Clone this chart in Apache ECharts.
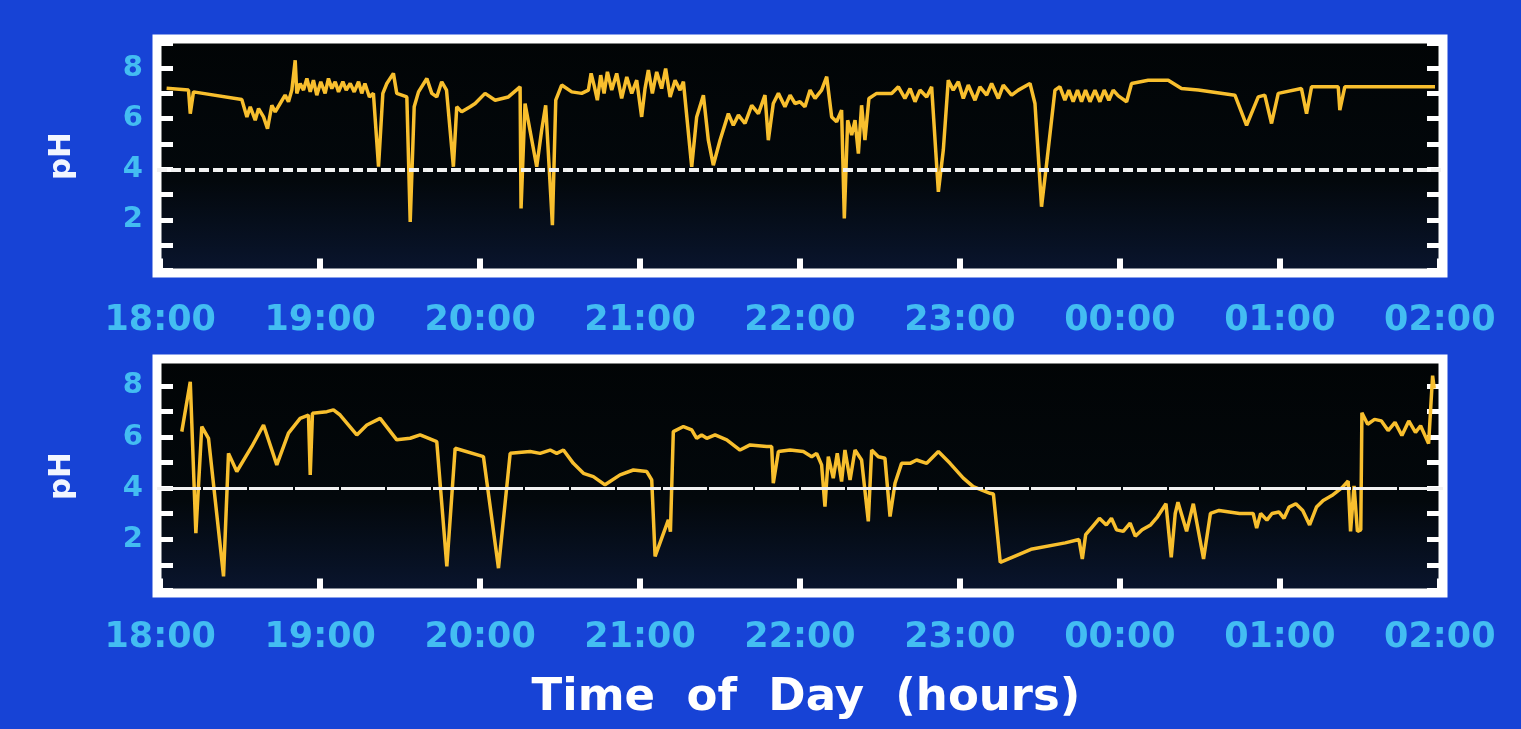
<!DOCTYPE html>
<html>
<head>
<meta charset="utf-8">
<title>pH vs Time of Day</title>
<script src="https://cdn.jsdelivr.net/npm/echarts@6/dist/echarts.min.js"></script>
<style>
  html, body { margin: 0; padding: 0; background: #1743d6; }
  #chart { width: 1521px; height: 729px; }
</style>
</head>
<body>
<div id="chart"></div>
<script>
// hours as decimals: 18 = 18:00 ... 24 = 00:00, 26 = 02:00 next day
const hourValues = [18, 19, 20, 21, 22, 23, 24, 25, 26];
const hourLabels = ['18:00', '19:00', '20:00', '21:00', '22:00', '23:00', '00:00', '01:00', '02:00'];
const yTickValues = [2, 4, 6, 8];
const yTickLabels = ['2', '4', '6', '8'];
const thresholdPH = 4;

// upper trace
const topTimes = [
  18.04, 18.177, 18.188, 18.208, 18.51, 18.542, 18.563, 18.594, 18.615, 18.646,
  18.671, 18.698, 18.719, 18.75, 18.781, 18.802, 18.823, 18.844, 18.854, 18.875,
  18.896, 18.917, 18.938, 18.958, 18.979, 19.004, 19.031, 19.052, 19.073, 19.094,
  19.115, 19.142, 19.163, 19.188, 19.213, 19.24, 19.26, 19.28, 19.308, 19.333,
  19.365, 19.392, 19.417, 19.458, 19.479, 19.542, 19.563, 19.588, 19.615, 19.667,
  19.698, 19.729, 19.76, 19.79, 19.833, 19.854, 19.885, 19.938, 19.969, 20.031,
  20.094, 20.177, 20.25, 20.256, 20.281, 20.354, 20.385, 20.41, 20.452, 20.473,
  20.51, 20.573, 20.635, 20.677, 20.694, 20.715, 20.733, 20.754, 20.775, 20.796,
  20.823, 20.854, 20.885, 20.917, 20.948, 20.979, 21.01, 21.031, 21.052, 21.077,
  21.104, 21.135, 21.16, 21.188, 21.219, 21.25, 21.271, 21.323, 21.354, 21.396,
  21.427, 21.458, 21.5, 21.552, 21.583, 21.615, 21.656, 21.698, 21.74, 21.781,
  21.802, 21.833, 21.865, 21.906, 21.938, 21.969, 22.0, 22.031, 22.063, 22.094,
  22.135, 22.167, 22.198, 22.229, 22.26, 22.277, 22.298, 22.323, 22.344, 22.365,
  22.385, 22.406, 22.431, 22.479, 22.573, 22.615, 22.656, 22.688, 22.719, 22.75,
  22.792, 22.823, 22.865, 22.896, 22.927, 22.958, 22.99, 23.021, 23.052, 23.094,
  23.125, 23.167, 23.198, 23.24, 23.271, 23.323, 23.365, 23.438, 23.469, 23.51,
  23.542, 23.594, 23.625, 23.656, 23.681, 23.708, 23.735, 23.76, 23.785, 23.813,
  23.844, 23.875, 23.902, 23.931, 23.958, 23.99, 24.042, 24.073, 24.177, 24.302,
  24.385, 24.49, 24.719, 24.792, 24.865, 24.906, 24.948, 24.99, 25.135, 25.167,
  25.198, 25.365, 25.375, 25.406, 25.97
];
const topPH = [
  7.2, 7.13, 6.2, 7.06, 6.76, 6.07, 6.47, 5.94, 6.4, 6.07,
  5.6, 6.53, 6.27, 6.6, 6.93, 6.67, 7.13, 8.31, 7.0, 7.39,
  7.13, 7.59, 7.06, 7.52, 6.93, 7.46, 7.0, 7.59, 7.19, 7.46,
  7.06, 7.46, 7.13, 7.39, 7.06, 7.46, 7.0, 7.39, 6.86, 7.0,
  4.1, 7.0, 7.39, 7.79, 7.0, 6.86, 1.92, 6.47, 7.06, 7.59,
  7.0, 6.86, 7.46, 7.13, 4.1, 6.47, 6.27, 6.47, 6.6, 7.0,
  6.73, 6.86, 7.26, 2.45, 6.6, 4.1, 5.55, 6.53, 1.79, 6.73,
  7.33, 7.06, 7.0, 7.13, 7.79, 7.26, 6.73, 7.72, 7.0, 7.85,
  7.13, 7.79, 6.8, 7.65, 7.0, 7.52, 6.07, 7.19, 7.92, 7.0,
  7.85, 7.19, 7.98, 6.86, 7.52, 7.13, 7.46, 4.1, 6.07, 6.93,
  5.15, 4.16, 5.15, 6.2, 5.74, 6.14, 5.81, 6.53, 6.2, 6.93,
  5.15, 6.6, 7.0, 6.47, 6.93, 6.6, 6.67, 6.47, 7.13, 6.8,
  7.13, 7.66, 6.07, 5.88, 6.34, 2.06, 5.94, 5.35, 5.94, 4.62,
  6.53, 5.15, 6.8, 7.0, 7.0, 7.26, 6.8, 7.19, 6.67, 7.13,
  6.86, 7.26, 3.11, 4.76, 7.52, 7.13, 7.46, 6.8, 7.33, 6.73,
  7.26, 6.93, 7.39, 6.8, 7.33, 6.93, 7.13, 7.39, 6.6, 2.52,
  4.23, 7.13, 7.26, 6.73, 7.13, 6.67, 7.13, 6.67, 7.13, 6.67,
  7.13, 6.67, 7.13, 6.73, 7.13, 6.9, 6.67, 7.39, 7.52, 7.52,
  7.19, 7.13, 6.93, 5.74, 6.86, 6.93, 5.81, 7.0, 7.19, 6.2,
  7.26, 7.26, 6.34, 7.26, 7.26
];

// lower trace
const bottomTimes = [
  18.135, 18.188, 18.223, 18.26, 18.302, 18.396, 18.427, 18.479, 18.573, 18.646,
  18.729, 18.802, 18.875, 18.927, 18.938, 18.952, 19.042, 19.083, 19.125, 19.229,
  19.292, 19.375, 19.479, 19.563, 19.625, 19.729, 19.792, 19.844, 20.021, 20.115,
  20.188, 20.313, 20.375, 20.438, 20.479, 20.521, 20.583, 20.646, 20.708, 20.781,
  20.875, 20.958, 21.042, 21.073, 21.094, 21.177, 21.19, 21.208, 21.271, 21.323,
  21.354, 21.385, 21.417, 21.469, 21.542, 21.625, 21.688, 21.792, 21.823, 21.833,
  21.865, 21.938, 22.021, 22.073, 22.104, 22.135, 22.156, 22.177, 22.208, 22.233,
  22.26, 22.281, 22.313, 22.344, 22.385, 22.427, 22.448, 22.49, 22.531, 22.563,
  22.594, 22.635, 22.688, 22.729, 22.792, 22.865, 22.938, 23.021, 23.083, 23.188,
  23.209, 23.252, 23.444, 23.658, 23.744, 23.765, 23.786, 23.829, 23.872, 23.915,
  23.947, 23.979, 24.021, 24.064, 24.096, 24.139, 24.192, 24.235, 24.288, 24.321,
  24.346, 24.363, 24.417, 24.459, 24.523, 24.566, 24.62, 24.748, 24.833, 24.855,
  24.88, 24.919, 24.951, 24.994, 25.026, 25.058, 25.1, 25.143, 25.186, 25.229,
  25.271, 25.325, 25.389, 25.427, 25.442, 25.464, 25.485, 25.506, 25.513, 25.549,
  25.592, 25.635, 25.677, 25.72, 25.763, 25.806, 25.848, 25.88, 25.93, 25.955,
  25.965
];
const bottomPH = [
  6.21, 8.16, 2.24, 6.41, 5.95, 0.55, 5.36, 4.65, 5.63, 6.47,
  4.91, 6.15, 6.73, 6.86, 4.52, 6.93, 6.99, 7.06, 6.86, 6.08,
  6.47, 6.73, 5.89, 5.95, 6.08, 5.82, 0.94, 5.56, 5.23, 0.87,
  5.36, 5.43, 5.36, 5.49, 5.36, 5.49, 4.97, 4.58, 4.45, 4.13,
  4.52, 4.71, 4.65, 4.32, 1.33, 2.76, 2.3, 6.21, 6.41, 6.28,
  5.95, 6.08, 5.95, 6.08, 5.89, 5.49, 5.69, 5.63, 5.63, 4.19,
  5.43, 5.49, 5.43, 5.23, 5.36, 4.91, 3.28, 5.23, 4.39, 5.36,
  4.26, 5.49, 4.32, 5.49, 5.1, 2.7, 5.49, 5.23, 5.17, 2.89,
  4.19, 4.97, 4.97, 5.1, 4.97, 5.43, 4.97, 4.39, 4.06, 3.8,
  3.77, 1.1, 1.61, 1.86, 1.99, 1.23, 2.18, 2.5, 2.82, 2.56,
  2.82, 2.37, 2.31, 2.63, 2.12, 2.37, 2.56, 2.88, 3.39, 1.29,
  3.01, 3.45, 2.31, 3.39, 1.23, 3.01, 3.13, 3.01, 3.01, 2.44,
  3.01, 2.75, 3.01, 3.07, 2.82, 3.26, 3.39, 3.13, 2.56, 3.26,
  3.52, 3.71, 4.02, 4.28, 2.31, 4.09, 2.31, 2.37, 6.95, 6.5,
  6.69, 6.63, 6.25, 6.57, 6.06, 6.63, 6.18, 6.44, 5.74, 8.4,
  7.9
];

const labelBlue = '#43bdf2';
const traceColor = '#f8bf2e';
const fontFamily = '"DejaVu Sans", "Liberation Sans", sans-serif';

const zip = (xs, ys) => xs.map((x, i) => [x, ys[i]]);

const hourFormatter = (v) => {
  const idx = hourValues.findIndex(h => Math.abs(h - v) < 1e-6);
  return idx >= 0 ? hourLabels[idx] : '';
};
const phFormatter = (v) => {
  const idx = yTickValues.findIndex(h => Math.abs(h - v) < 1e-6);
  return idx >= 0 ? yTickLabels[idx] : '';
};

// nền ô vẽ: đen phía trên, hơi ngả xanh đậm ở dưới
const panelFill = () => new echarts.graphic.LinearGradient(0, 0, 0, 1, [
  { offset: 0, color: '#010405' },
  { offset: 0.6, color: '#03080c' },
  { offset: 1, color: '#0a1630' }
]);

const makeGrid = (top) => ({
  left: 157,
  width: 1286,
  top: top,
  height: 234,
  show: true,
  backgroundColor: panelFill(),
  borderColor: '#ffffff',
  borderWidth: 9
});

const makeXAxis = (gridIndex, margin) => ({
  gridIndex: gridIndex,
  type: 'value',
  min: 17.98,
  max: 26.02,
  splitNumber: 8,
  minInterval: 1,
  maxInterval: 1,
  axisLine: { show: false },
  splitLine: { show: false },
  axisTick: { inside: true, length: 12, lineStyle: { color: '#ffffff', width: 6 } },
  axisLabel: {
    margin: margin,
    color: labelBlue,
    fontFamily: fontFamily,
    fontWeight: 'bold',
    fontSize: 35,
    formatter: hourFormatter
  }
});

const makeYAxis = (gridIndex, position, yMax) => ({
  gridIndex: gridIndex,
  type: 'value',
  position: position,
  min: -0.1,
  max: yMax,
  splitNumber: 9,
  minInterval: 1,
  maxInterval: 1,
  axisLine: { show: false },
  splitLine: { show: false },
  axisTick: { inside: true, length: 16, lineStyle: { color: '#ffffff', width: 5 } },
  axisLabel: {
    show: position === 'left',
    margin: 14,
    color: labelBlue,
    fontFamily: fontFamily,
    fontWeight: 'bold',
    fontSize: 29,
    formatter: phFormatter
  },
  name: position === 'left' ? 'pH' : '',
  nameLocation: 'middle',
  nameRotate: 90,
  nameGap: 80,
  nameTextStyle: {
    color: '#f2f6ff',
    fontFamily: fontFamily,
    fontWeight: 'bold',
    fontSize: 31
  }
});

const makeSeries = (xi, yi, data, dash, lw) => ({
  type: 'line',
  xAxisIndex: xi,
  yAxisIndex: yi,
  data: data,
  showSymbol: false,
  symbol: 'none',
  lineStyle: { color: traceColor, width: 3.5 },
  markLine: {
    silent: true,
    symbol: 'none',
    label: { show: false },
    lineStyle: { color: '#f2f2f2', width: lw, type: dash },
    data: [{ yAxis: thresholdPH }]
  }
});

const chart = echarts.init(document.getElementById('chart'));
chart.setOption({
  backgroundColor: '#1743d6',
  animation: false,
  grid: [makeGrid(39), makeGrid(359)],
  xAxis: [makeXAxis(0, 30), makeXAxis(1, 27)],
  yAxis: [
    makeYAxis(0, 'left', 9.15),
    makeYAxis(0, 'right', 9.15),
    makeYAxis(1, 'left', 9.05),
    makeYAxis(1, 'right', 9.05)
  ],
  series: [
    makeSeries(0, 0, zip(topTimes, topPH), [10, 4], 4),
    makeSeries(1, 2, zip(bottomTimes, bottomPH), [44, 2], 3)
  ],
  graphic: [{
    type: 'text',
    x: 806,
    y: 698,
    style: {
      text: 'Time  of  Day  (hours)',
      textAlign: 'center',
      textVerticalAlign: 'middle',
      font: 'bold 45px "DejaVu Sans", "Liberation Sans", sans-serif',
      fill: '#ffffff'
    }
  }]
});
</script>
</body>
</html>
